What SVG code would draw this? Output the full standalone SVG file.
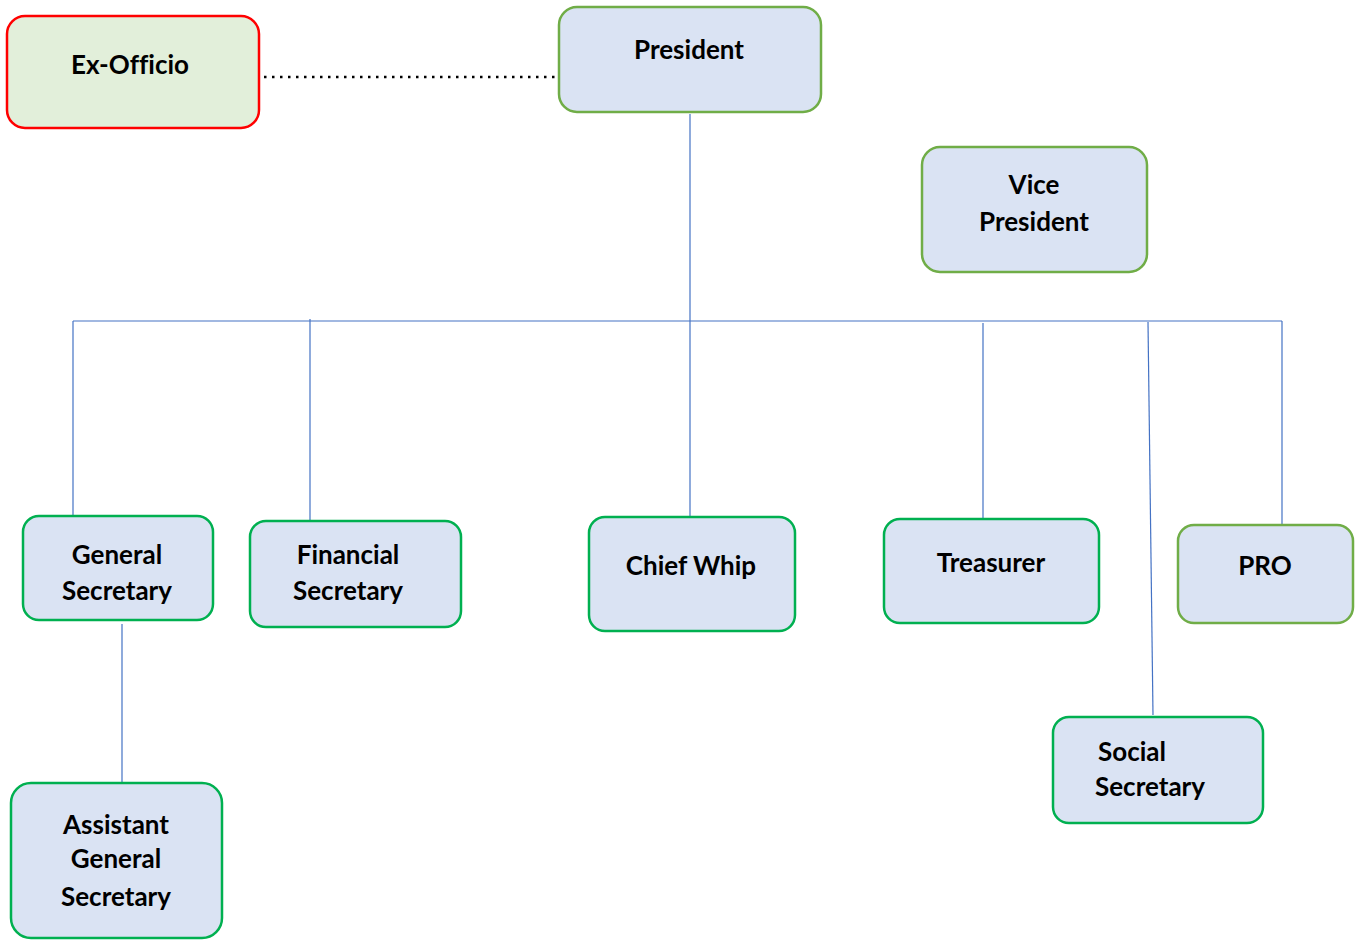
<svg xmlns="http://www.w3.org/2000/svg" width="1359" height="940" viewBox="0 0 1359 940">
<style>
.box{fill:#DAE3F3;stroke-width:2.5}
.g1{stroke:#00B050}
.g2{stroke:#70AD47}
.red{fill:#E2EFDA;stroke:#FF0000;stroke-width:2.5}
text{font-family:"Lato","Liberation Sans",sans-serif;font-weight:bold;font-size:26px;fill:#000;text-anchor:middle;font-variant-ligatures:none}
.c{stroke:#4472C4;stroke-width:1.2;fill:none}
.dot{stroke:#000;stroke-width:2.5;stroke-dasharray:2.5 5.5;fill:none}
</style>
<rect width="1359" height="940" fill="#fff"/>
<g id="connectors">
<line class="dot" x1="264" y1="77" x2="557" y2="77"/>
<line class="c" x1="690" y1="114" x2="690" y2="517"/>
<line class="c" x1="73" y1="321" x2="1282" y2="321"/>
<line class="c" x1="73" y1="321" x2="73" y2="519"/>
<line class="c" x1="310" y1="319" x2="310" y2="521"/>
<line class="c" x1="983" y1="323" x2="983" y2="519"/>
<line class="c" x1="1148" y1="322" x2="1153" y2="715"/>
<line class="c" x1="1282" y1="321" x2="1282" y2="524"/>
<line class="c" x1="122" y1="624" x2="122" y2="783"/>
</g>
<g id="ex-officio">
<rect class="red" x="7" y="16" width="252" height="112" rx="18"/>
<text x="130" y="74">Ex-Officio</text>
</g>
<g id="president">
<rect class="box g2" x="559" y="7" width="262" height="105" rx="18"/>
<text x="689" y="59">President</text>
</g>
<g id="vice-president">
<rect class="box g2" x="922" y="147" width="225" height="125" rx="18"/>
<text x="1034" y="194">Vice</text>
<text x="1034" y="231">President</text>
</g>
<g id="general-secretary">
<rect class="box g1" x="23" y="516" width="190" height="104" rx="16"/>
<text x="117" y="564">General</text>
<text x="117" y="600">Secretary</text>
</g>
<g id="financial-secretary">
<rect class="box g1" x="250" y="521" width="211" height="106" rx="16"/>
<text x="348" y="564">Financial</text>
<text x="348" y="600">Secretary</text>
</g>
<g id="chief-whip">
<rect class="box g1" x="589" y="517" width="206" height="114" rx="16"/>
<text x="691" y="575">Chief Whip</text>
</g>
<g id="treasurer">
<rect class="box g1" x="884" y="519" width="215" height="104" rx="16"/>
<text x="991" y="572">Treasurer</text>
</g>
<g id="pro">
<rect class="box g2" x="1178" y="525" width="175" height="98" rx="16"/>
<text x="1265" y="575">PRO</text>
</g>
<g id="social-secretary">
<rect class="box g1" x="1053" y="717" width="210" height="106" rx="16"/>
<text x="1132" y="761">Social</text>
<text x="1150" y="796">Secretary</text>
</g>
<g id="assistant-general-secretary">
<rect class="box g1" x="11" y="783" width="211" height="155" rx="20"/>
<text x="116" y="834">Assistant</text>
<text x="116" y="868">General</text>
<text x="116" y="906">Secretary</text>
</g>
</svg>
